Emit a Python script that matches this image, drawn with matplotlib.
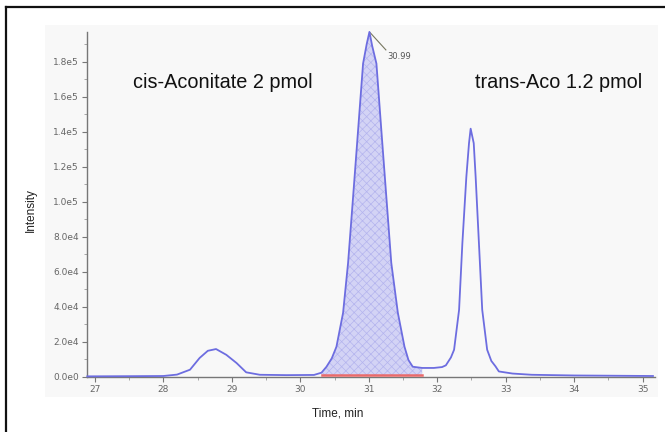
import matplotlib
matplotlib.use("Agg")
import matplotlib.pyplot as plt
from matplotlib.lines import Line2D
from matplotlib.patches import Rectangle
from matplotlib.ticker import MultipleLocator, FuncFormatter
import numpy as np

# chromatogram trace (time in min, intensity in counts)
time = [26.89, 27.5, 28.0, 28.2, 28.39, 28.53, 28.65, 28.77, 28.92, 29.07,
        29.21, 29.41, 29.8, 30.2, 30.31, 30.383, 30.46, 30.528, 30.625, 30.698,
        30.771, 30.844, 30.917, 30.97, 31.01, 31.05, 31.112, 31.184, 31.257, 31.329,
        31.425, 31.522, 31.58, 31.642, 31.78, 31.95, 32.07, 32.126, 32.2, 32.246,
        32.319, 32.367, 32.425, 32.464, 32.488, 32.533, 32.561, 32.609, 32.657, 32.729,
        32.79, 32.851, 32.9, 33.1, 33.38, 34.0, 34.4, 35.15]
intensity = [200, 300, 400, 1200, 4000, 10700, 14800, 15800, 12500, 7800,
             2500, 1100, 900, 1000, 2300, 5700, 10500, 17100, 36500, 65000,
             102600, 140700, 178900, 190000, 197000, 189000, 178900, 140700, 102600, 65000,
             36500, 17100, 9500, 5700, 5000, 5000, 5500, 6500, 11000, 15400,
             38200, 76200, 114100, 133400, 141700, 133400, 114100, 76200, 38200, 15400,
             9000, 5900, 3000, 1800, 1100, 700, 600, 400]

# integrated peak (cis-aconitate)
peak_start = 30.31
peak_end = 31.78
peak_base = 900
apex_time = 31.01
apex_label = "30.99"

yticks = [0, 2e4, 4e4, 6e4, 8e4, 1e5, 1.2e5, 1.4e5, 1.6e5, 1.8e5]
xticks = [27, 28, 29, 30, 31, 32, 33, 34, 35]

sans = ["Liberation Sans", "DejaVu Sans"]

t = np.array(time)
y = np.array(intensity)

fig = plt.figure(figsize=(6.65, 4.32), dpi=100)

# light panel behind the plot and the outer frame
fig.add_artist(Rectangle((45 / 665, 1 - 397 / 432), 613 / 665, 372 / 432,
                         transform=fig.transFigure, facecolor="#f8f8f8",
                         edgecolor="none", zorder=-5))
fig.add_artist(Line2D([6 / 665, 1.0], [1 - 7 / 432] * 2, color="#111111", lw=1.6))
fig.add_artist(Line2D([6 / 665] * 2, [0.0, 1 - 7 / 432], color="#111111", lw=1.6))

ax = fig.add_axes([87.3 / 665, 1 - 376.7 / 432, (655 - 87.3) / 665, (376.7 - 31.7) / 432])
ax.patch.set_alpha(0)

plt.rcParams["hatch.linewidth"] = 0.5
mask = (t >= peak_start) & (t <= peak_end)
ax.fill_between(t, peak_base, y, where=mask,
                facecolor="#d3d3f5", edgecolor="#b4b4ee", hatch="xxxx", lw=0, zorder=1)
ax.plot(t, y, color="#6d6de0", lw=1.3, zorder=3, clip_on=False)
ax.plot([peak_start, peak_end], [peak_base, peak_base], color="#ea6a6a", lw=1.8, zorder=4)

# retention time label for the main peak
ax.plot([apex_time, 31.25], [max(intensity), 1.867e5], color="#777760", lw=0.8)
ax.text(31.44, 1.827e5, apex_label, fontsize=6, color="#555555",
        ha="center", va="center")

ax.set_xlim(26.89, 35.18)
ax.set_ylim(0, 1.971e5)
ax.set_xticks(xticks)
ax.set_yticks(yticks)
ax.xaxis.set_minor_locator(MultipleLocator(0.5))
ax.yaxis.set_minor_locator(MultipleLocator(1e4))


def sci(v, pos):
    e = int(np.floor(np.log10(v))) if v > 0 else 0
    return "%.1fe%d" % (v / 10 ** e, e)


ax.yaxis.set_major_formatter(FuncFormatter(sci))
for s in ["top", "right"]:
    ax.spines[s].set_visible(False)
for s in ["left", "bottom"]:
    ax.spines[s].set_color("#777777")
    ax.spines[s].set_linewidth(1.0)
ax.tick_params(axis="both", which="major", length=3.5, width=0.8, color="#777777",
               labelsize=6.5, labelcolor="#666666", pad=2.5)
ax.tick_params(axis="both", which="minor", length=2, width=0.6, color="#999999")

fig.text(31 / 665, 1 - 210 / 432, "Intensity", rotation=90, fontsize=8.5,
         family=sans, color="#222222", ha="center", va="center")
fig.text(338 / 665, 1 - 414 / 432, "Time, min", fontsize=8.5, family=sans,
         color="#222222", ha="center", va="center")

ax.text(27.555, 1.65e5, "cis-Aconitate 2 pmol", fontsize=14.3, family=sans,
        color="#111111", ha="left", va="baseline")
ax.text(32.55, 1.65e5, "trans-Aco 1.2 pmol", fontsize=14.3, family=sans,
        color="#111111", ha="left", va="baseline")

fig.savefig("out.png", dpi=100)
